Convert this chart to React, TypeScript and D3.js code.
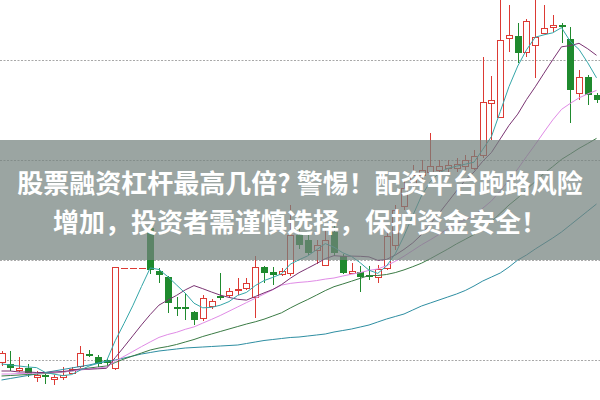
import React from 'react';
import * as d3 from 'd3';

// Trading days (index) — prices
const OPEN = [3.8, 3.6, 3.0, 3.2, 2.3, 2.5, 2.1, 2.3, 2.7, 3.4, 4.6, 4.3, 4.0, 3.2, 13.25, 13.25, 13.25, 17.2, 12.9, 12.3, 9.3, 9.3, 8.8, 8.2, 9.4, 10.4, 10.5, 11.0, 11.2, 10.3, 13.3, 12.8, 12.6, 12.7, 16.5, 16.0, 15.0, 13.5, 16.8, 14.4, 12.7, 12.8, 12.5, 12.3, 13.2, 15.5, 19.4, 21.5, 22.5, 22.8, 23.0, 23.2, 23.2, 23.4, 23.2, 24.5, 29.7, 28.3, 36.2, 36.4, 34.8, 35.5, 36.7, 37.3, 37.5, 36.1, 30.7, 32.3, 30.5];
const CLOSE = [4.7, 3.2, 3.2, 2.6, 2.5, 2.3, 2.3, 2.5, 3.1, 4.7, 4.4, 3.6, 3.7, 13.3, 13.25, 13.25, 13.25, 13.0, 12.5, 9.7, 9.1, 9.1, 8.0, 10.2, 9.9, 10.2, 10.9, 11.1, 11.7, 13.3, 12.7, 12.5, 12.9, 16.5, 15.5, 14.7, 15.5, 16.0, 14.7, 12.7, 12.9, 12.3, 12.3, 13.1, 16.4, 19.0, 21.2, 22.5, 23.0, 23.4, 23.4, 23.5, 23.6, 24.0, 24.4, 29.8, 30.0, 36.0, 36.5, 34.7, 37.9, 36.3, 37.2, 37.5, 37.3, 31.0, 32.3, 30.5, 30.0];
const HIGH = [4.9, 4.9, 4.3, 3.6, 2.9, 2.7, 2.5, 3.3, 3.3, 5.4, 5.0, 4.5, 4.1, 13.3, 13.25, 13.25, 13.25, 17.5, 13.2, 12.4, 10.3, 10.7, 8.9, 10.5, 10.1, 12.7, 11.2, 12.2, 12.2, 14.4, 13.4, 13.3, 13.2, 19.5, 17.2, 16.5, 16.0, 17.2, 17.5, 14.6, 13.7, 13.4, 13.4, 13.5, 17.0, 19.5, 22.0, 23.5, 24.0, 26.7, 24.0, 24.0, 24.2, 24.5, 25.0, 34.3, 32.4, 40.5, 39.5, 37.7, 38.1, 40.3, 39.5, 38.5, 37.7, 37.3, 33.0, 32.5, 30.7];
const LOW = [3.4, 2.9, 2.8, 2.3, 1.8, 1.6, 1.5, 2.0, 2.6, 3.2, 4.3, 3.3, 3.5, 3.0, 13.25, 13.25, 13.25, 12.6, 11.7, 8.7, 8.4, 8.0, 7.5, 7.9, 9.1, 10.0, 10.2, 10.5, 11.0, 8.2, 11.7, 11.5, 12.4, 12.4, 15.1, 14.5, 13.6, 13.4, 14.4, 12.6, 12.6, 10.8, 12.0, 11.7, 13.0, 15.0, 19.0, 21.0, 22.0, 22.5, 22.5, 22.8, 22.8, 23.0, 23.0, 24.2, 26.0, 28.2, 34.8, 33.7, 34.3, 32.2, 36.6, 36.8, 35.7, 27.7, 30.0, 29.5, 29.7];

// Moving averages
const MA5 = [3.6, 3.5, 3.4, 3.3, 3.24, 2.76, 2.58, 2.44, 2.54, 2.98, 3.4, 3.66, 3.9, 5.94, 7.65, 9.42, 11.35, 13.21, 13.05, 12.34, 11.51, 10.68, 9.68, 9.22, 9.26, 9.48, 9.84, 10.46, 10.76, 11.44, 11.94, 12.26, 12.62, 13.58, 14.02, 14.42, 15.02, 15.64, 15.28, 14.72, 14.36, 13.72, 12.98, 12.66, 13.4, 14.62, 16.4, 18.44, 20.42, 21.82, 22.7, 23.16, 23.38, 23.58, 23.78, 25.06, 26.36, 28.84, 31.34, 33.4, 35.02, 36.28, 36.52, 36.72, 37.24, 35.86, 35.06, 33.72, 32.22];
const MA10 = [2.9, 2.9, 2.8, 2.8, 2.75, 2.75, 2.8, 2.85, 2.95, 3.11, 3.08, 3.12, 3.17, 4.24, 5.31, 6.41, 7.51, 8.55, 9.49, 9.99, 10.46, 11.01, 11.44, 11.13, 10.8, 10.49, 10.26, 10.07, 9.99, 10.35, 10.71, 11.05, 11.54, 12.17, 12.73, 13.18, 13.64, 14.13, 14.43, 14.37, 14.39, 14.37, 14.31, 13.97, 14.06, 14.49, 15.06, 15.71, 16.54, 17.61, 18.66, 19.78, 20.91, 22.0, 22.8, 23.88, 24.76, 26.11, 27.46, 28.59, 30.04, 31.32, 32.68, 34.03, 35.32, 35.44, 35.67, 35.12, 34.47];
const MA20 = [2.6, 2.6, 2.65, 2.65, 2.7, 2.7, 2.75, 2.8, 2.9, 3.0, 3.1, 3.2, 3.3, 3.87, 4.36, 4.85, 5.34, 5.81, 6.26, 6.55, 6.77, 7.07, 7.31, 7.69, 8.06, 8.45, 8.88, 9.31, 9.74, 10.17, 10.59, 11.03, 11.49, 11.66, 11.76, 11.83, 11.94, 12.09, 12.2, 12.4, 12.58, 12.74, 12.96, 13.1, 13.43, 13.87, 14.38, 14.95, 15.52, 16.02, 16.56, 17.11, 17.64, 17.99, 18.43, 19.18, 19.91, 20.91, 22.0, 23.1, 24.35, 25.55, 26.8, 28.01, 29.06, 29.66, 30.21, 30.61, 30.96];
const MA30 = [2.4, 2.45, 2.5, 2.55, 2.6, 2.65, 2.7, 2.8, 2.9, 3.05, 3.2, 3.3, 3.4, 3.75, 4.1, 4.4, 4.7, 5.0, 5.2, 5.35, 5.55, 5.8, 6.05, 6.35, 6.6, 6.85, 7.1, 7.35, 7.6, 7.82, 8.08, 8.4, 8.72, 9.2, 9.64, 10.05, 10.49, 10.94, 11.33, 11.6, 11.88, 12.17, 12.45, 12.45, 12.55, 12.74, 13.01, 13.33, 13.68, 14.13, 14.61, 15.09, 15.61, 16.07, 16.55, 17.21, 17.84, 18.67, 19.5, 20.21, 21.05, 21.85, 22.66, 23.34, 24.06, 24.6, 25.16, 25.65, 26.16];
const MA60 = [2.0, 2.15, 2.3, 2.45, 2.6, 2.75, 2.9, 3.05, 3.2, 3.35, 3.5, 3.7, 3.85, 4.0, 4.2, 4.4, 4.6, 4.75, 4.9, 5.0, 5.1, 5.2, 5.25, 5.3, 5.35, 5.4, 5.45, 5.5, 5.65, 5.8, 5.95, 6.05, 6.15, 6.25, 6.3, 6.4, 6.5, 6.6, 6.8, 6.95, 7.1, 7.3, 7.5, 7.8, 8.1, 8.35, 8.6, 9.0, 9.4, 9.7, 10.0, 10.3, 10.6, 10.95, 11.4, 11.9, 12.3, 12.7, 13.3, 14.0, 14.5, 15.1, 15.65, 16.2, 16.8, 17.5, 18.2, 18.9, 19.6];

const GRID_VALUES = [4, 14, 24, 34];
const TITLE_LINES = [
  '股票融资杠杆最高几倍? 警惕！配资平台跑路风险',
  '增加，投资者需谨慎选择，保护资金安全！',
];

const UP_COLOR = '#dc3a34';
const DOWN_COLOR = '#1f8a2e';
const MA_SERIES = [
  { name: 'MA60', values: MA60, color: '#2e8ea2' },
  { name: 'MA30', values: MA30, color: '#3b7b45' },
  { name: 'MA20', values: MA20, color: '#e08be6' },
  { name: 'MA10', values: MA10, color: '#7a3372' },
  { name: 'MA5', values: MA5, color: '#34a6a8' },
];

export default function App() {
  const width = 600;
  const height = 400;
  const x = d3.scaleLinear().domain([0, OPEN.length - 1]).range([1.5, 596.5]);
  const y = d3.scaleLinear().domain([0, 40]).range([height, 0]);
  const lineGen = d3
    .line<number>()
    .x((_, i) => x(i))
    .y((d) => y(d));

  const candles = OPEN.map((o, i) => {
    const c = CLOSE[i];
    const h = HIGH[i];
    const l = LOW[i];
    const up = c >= o;
    const color = up ? UP_COLOR : DOWN_COLOR;
    const cx = Math.round(x(i)) + 0.5;
    if (h === l) {
      const yy = Math.round(y(c)) + 0.5;
      return (
        <line key={i} x1={cx - 3.5} x2={cx + 3.5} y1={yy} y2={yy} stroke={color} strokeWidth={1} />
      );
    }
    const yTop = Math.round(y(Math.max(o, c)));
    const yBot = Math.round(y(Math.min(o, c)));
    const bh = Math.max(yBot - yTop, 1);
    return (
      <g key={i}>
        <line x1={cx} x2={cx} y1={y(h)} y2={y(l)} stroke={color} strokeWidth={1} />
        {up ? (
          <rect x={cx - 3} y={yTop + 0.5} width={6} height={bh} fill="#fff" stroke={color} strokeWidth={1} />
        ) : (
          <rect x={cx - 3.5} y={yTop} width={7} height={bh} fill={color} />
        )}
      </g>
    );
  });

  return (
    <svg
      width={width}
      height={height}
      style={{ position: 'absolute', left: 0, top: 0, display: 'block' }}
    >
      <rect x={0} y={0} width={width} height={height} fill="#ffffff" />
      {GRID_VALUES.map((v) => {
        const yy = Math.round(y(v)) + 0.5;
        return (
          <line key={v} x1={0} x2={width} y1={yy} y2={yy} stroke="#a8a8a8" strokeWidth={1} strokeDasharray="2,1.5" />
        );
      })}
      {candles}
      {MA_SERIES.map((s) => (
        <path key={s.name} d={lineGen(s.values) || ''} fill="none" stroke={s.color} strokeWidth={1} />
      ))}
      <rect x={0} y={140} width={width} height={120} fill="rgb(116,130,126)" fillOpacity={0.72} />
      {TITLE_LINES.map((t, i) => (
        <text
          key={i}
          x={300}
          y={181 + i * 39}
          textAnchor="middle"
          dominantBaseline="central"
          fontFamily="'Noto Sans CJK SC', 'Noto Sans', sans-serif"
          fontWeight={700}
          fontSize={26}
          fill="#ffffff"
        >
          {t}
        </text>
      ))}
    </svg>
  );
}
